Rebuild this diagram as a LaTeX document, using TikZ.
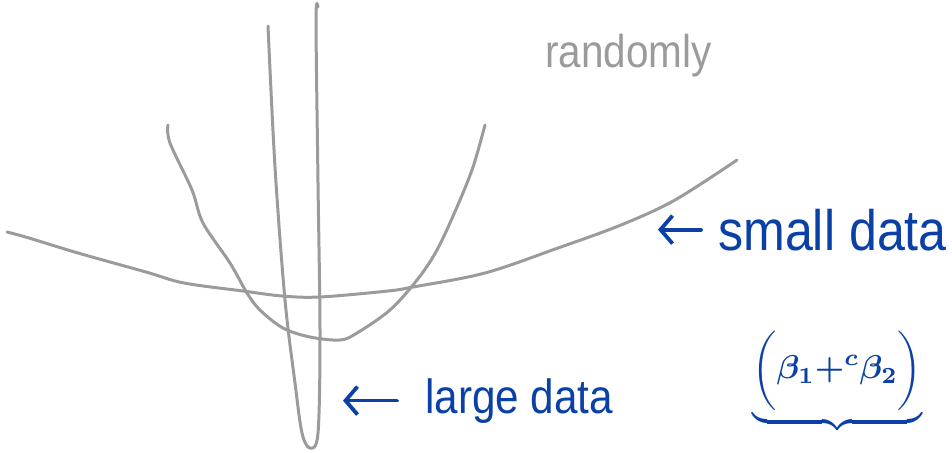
\documentclass[tikz,border=0pt]{standalone}
\usepackage{fontspec}
\setmainfont{Liberation Sans}
\newfontfamily\handfont[FakeStretch=0.88]{Liberation Sans}
\usetikzlibrary{arrows.meta, positioning}
\definecolor{pen}{HTML}{0B40A6}
\definecolor{pencil}{HTML}{9B9B9B}

\tikzset{
  curve/.style={draw=pencil, line width=3pt, line cap=round, line join=round},
  note/.style={inner sep=0pt, anchor=base west, text=pen},
  pointer/.style={draw=pen, line width=3.8pt, line cap=round, line join=round,
    -{Straight Barb[length=12pt, width=28pt, line width=3.8pt]}},
}

\begin{document}
\begin{tikzpicture}[x=1pt, y=-1pt]
    \useasboundingbox (0,0) rectangle (952,452);

    % loss curves, flat to steep
    \draw[curve] plot[smooth, tension=0.55] coordinates {(7,232) (29,238) (78,253) (146,272)
        (184,283) (243,291) (282,296) (320,297) (388,291) (413,287) (485,273) (558,248)
        (621,225) (675,200) (737,160)};
    \draw[curve] plot[smooth, tension=0.55] coordinates {(168,125) (170,143) (192,190)
        (203,223) (230,263) (247,293) (260,310) (283,328) (310,337) (340,340) (357,333)
        (390,310) (417,280) (437,250) (457,207) (473,167) (485,125)};
    \draw[curve] plot[smooth, tension=0.55] coordinates {(268,26) (275,167) (285,300)
        (295,383) (302,433) (310,448) (318,433) (320,333) (318,183) (316,20) (318,7)};

    % labels
    \node[note, text=pencil, font=\handfont\fontsize{46}{46}\selectfont] (randomly) at (545,67) {randomly};
    \node[note, font=\handfont\fontsize{57}{57}\selectfont] (small) at (718,250) {small data};
    \node[note, font=\handfont\fontsize{48}{48}\selectfont] (large) at (425,413) {large data};
    \node[note, anchor=south west] (beta) at (752,434)
        {\scalebox{3.3}{\boldmath$\underbrace{\bigg(\beta_1{+}{}^{c}\beta_2\bigg)}$}};

    \draw[pointer] ([xshift=-17pt]small.west) -- ([xshift=-60pt]small.west);
    \draw[pointer] ([xshift=-28pt]large.west) -- ([xshift=-82pt]large.west);
\end{tikzpicture}
\end{document}
